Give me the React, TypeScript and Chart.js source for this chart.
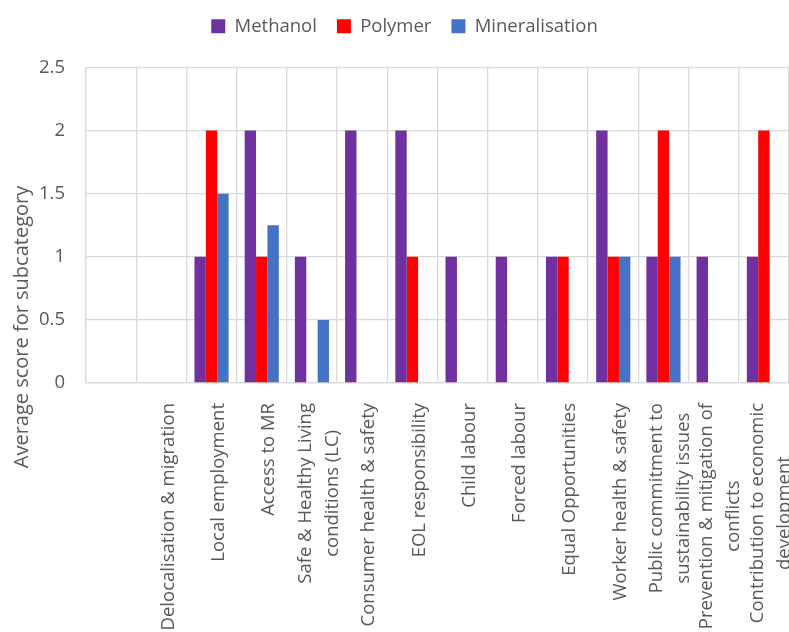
import React, { useEffect, useRef } from "react";
import { Chart, registerables } from "chart.js";

Chart.register(...registerables);

const categories: (string | string[])[] = [
  "",
  "Delocalisation & migration",
  "Local employment",
  "Access to MR",
  ["Safe & Healthy Living", "conditions (LC)"],
  "Consumer health & safety",
  "EOL responsibility",
  "Child labour",
  "Forced labour",
  "Equal Opportunities",
  "Worker health & safety",
  ["Public commitment to", "sustainability issues"],
  ["Prevention & mitigation of", "conflicts"],
  ["Contribution to economic", "development"],
];

const methanol = [0, 0, 1, 2, 1, 2, 2, 1, 1, 1, 2, 1, 1, 1];
const polymer = [0, 0, 2, 1, 0, 0, 1, 0, 0, 1, 1, 2, 0, 2];
const mineralisation = [0, 0, 1.5, 1.25, 0.5, 0, 0, 0, 0, 0, 1, 1, 0, 0];

const seriesNames = ["Methanol", "Polymer", "Mineralisation"];
const seriesColors = ["#7030A0", "#FF0000", "#4472C4"];
const yTitle = "Average score for subcategory";

const FONT = '"Open Sans", "DejaVu Sans", sans-serif';
const TEXT = "#595959";
const GRID = "#d9d9d9";

const textPlugin = {
  id: "excelText",
  beforeLayout(chart: any) {
    const lg = chart.legend;
    if (lg && !lg.__patched) {
      lg.__patched = true;
      const fit = lg.fit;
      lg.fit = function (this: any) {
        fit.call(this);
        this.height += 19;
      };
      const draw = lg.draw;
      lg.draw = function (this: any) {
        const c = this.ctx;
        c.save();
        c.translate(10, -3);
        draw.call(this);
        c.restore();
      };
    }
  },
  afterDraw(chart: any) {
    const xs = chart.scales.x;
    const ctx = chart.ctx;
    const top = chart.chartArea.bottom + 20;
    const lh = 27;
    ctx.save();
    ctx.font = `18.5px ${FONT}`;
    ctx.fillStyle = TEXT;
    ctx.textAlign = "center";
    ctx.textBaseline = "middle";
    const labels = chart.data.labels as (string | string[])[];
    labels.forEach((lab, i) => {
      const lines = Array.isArray(lab) ? lab : [lab];
      if (!lines.join("")) return;
      const maxW = Math.max(...lines.map((l) => ctx.measureText(l).width));
      const cx = xs.getPixelForTick(i);
      ctx.save();
      ctx.translate(cx + 7, top + maxW / 2);
      ctx.rotate(-Math.PI / 2);
      lines.forEach((l, j) => {
        ctx.fillText(l, 0, (j - (lines.length - 1) / 2) * lh);
      });
      ctx.restore();
    });
    // y-axis title
    ctx.font = `20px ${FONT}`;
    ctx.save();
    ctx.translate(22, 327);
    ctx.rotate(-Math.PI / 2);
    ctx.fillText(yTitle, 0, 0);
    ctx.restore();
    ctx.restore();
  },
};

export default function App() {
  const ref = useRef<HTMLCanvasElement>(null);
  useEffect(() => {
    document.body.style.margin = "0";
    const data = [methanol, polymer, mineralisation];
    const chart = new Chart(ref.current!, {
      type: "bar",
      data: {
        labels: categories as any,
        datasets: seriesNames.map((name, k) => ({
          label: name,
          data: data[k],
          backgroundColor: seriesColors[k],
          borderWidth: 0,
          categoryPercentage: 0.68,
          barPercentage: 1,
        })),
      },
      options: {
        animation: false,
        responsive: true,
        maintainAspectRatio: false,
        layout: { padding: { top: 0, left: 0, right: 0, bottom: 0 } },
        plugins: {
          tooltip: { enabled: false },
          legend: {
            position: "top",
            labels: {
              boxWidth: 14,
              boxHeight: 14,
              padding: 20,
              color: TEXT,
              font: { family: FONT, size: 18.5 },
            },
          },
        },
        scales: {
          x: {
            grid: { color: GRID, drawTicks: false, lineWidth: 1.3 },
            border: { color: GRID, width: 1.3 },
            ticks: { display: false },
            afterFit(scale: any) {
              scale.height = 249;
            },
          },
          y: {
            min: 0,
            max: 2.5,
            grid: { color: GRID, drawTicks: false, lineWidth: 1.3 },
            border: { color: GRID, width: 1.3 },
            ticks: {
              stepSize: 0.5,
              padding: 21,
              color: TEXT,
              font: { family: FONT, size: 18.5 },
              callback: (v: any) => String(v),
            },
            title: { display: false, text: yTitle },
            afterFit(scale: any) {
              scale.width = 86;
            },
          },
        },
      },
      plugins: [textPlugin],
    });
    return () => chart.destroy();
  }, []);
  return (
    <div style={{ width: 789, height: 632, position: "relative" }}>
      <canvas ref={ref} />
    </div>
  );
}
